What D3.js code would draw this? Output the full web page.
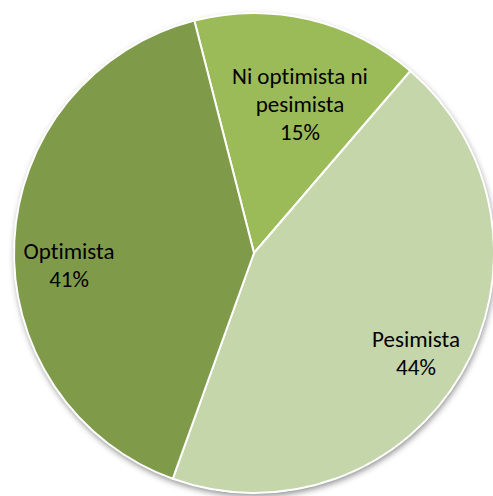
<!DOCTYPE html>
<html>
<head>
<meta charset="utf-8">
<script src="https://cdn.jsdelivr.net/npm/d3@7"></script>
<style>
html,body{margin:0;padding:0;background:#fff;}
svg{display:block;}
text{font-variant-ligatures:none;font-feature-settings:"liga" 0,"clig" 0,"dlig" 0;}
</style>
</head>
<body>
<svg id="chart" width="493" height="496"></svg>
<script>
// Data
const categories = ["Ni optimista ni pesimista", "Pesimista", "Optimista"];
const values = [15.3, 44.2, 40.5];
const percentLabels = ["15%", "44%", "41%"];
const labelLines = [["Ni optimista ni", "pesimista"], ["Pesimista"], ["Optimista"]];
const colors = ["#9BBB59", "#C4D6AA", "#7F9B4A"];

const svg = d3.select("#chart");
const cx = 254, cy = 253, r = 240;

const defs = svg.append("defs");
const f = defs.append("filter").attr("id", "shadow")
  .attr("x", "-10%").attr("y", "-10%").attr("width", "120%").attr("height", "120%");
f.append("feDropShadow").attr("dx", 1).attr("dy", 3).attr("stdDeviation", 3)
  .attr("flood-color", "#000").attr("flood-opacity", 0.45);

const startAngle = -14.4 * Math.PI / 180;
const pie = d3.pie().sort(null).value(d => d)
  .startAngle(startAngle).endAngle(startAngle + 2 * Math.PI);
const arcs = pie(values);
const arc = d3.arc().innerRadius(0).outerRadius(r);

const g = svg.append("g").attr("transform", `translate(${cx},${cy})`);
g.append("circle").attr("r", r).attr("fill", "#fff").attr("filter", "url(#shadow)");
g.selectAll("path.slice").data(arcs).enter().append("path")
  .attr("class", "slice")
  .attr("d", arc)
  .attr("fill", (d, i) => colors[i])
  .attr("stroke", "#fff")
  .attr("stroke-width", 2)
  .attr("stroke-linejoin", "round");

// Label placement: polar (angle in degrees clockwise from top, radius fraction)
const labelPolar = [[17.0, 0.655], [121.3, 0.79], [266.6, 0.772]];
const labelG = svg.append("g")
  .attr("font-family", "Carlito, Calibri, Lato, sans-serif")
  .attr("font-size", 23)
  .attr("fill", "#000")
  .attr("text-anchor", "middle");
const lineH = 28;
arcs.forEach((d, i) => {
  const lines = labelLines[i].concat([percentLabels[i]]);
  const a = labelPolar[i][0] * Math.PI / 180;
  const rr = r * labelPolar[i][1];
  const x = cx + Math.sin(a) * rr;
  const y = cy - Math.cos(a) * rr;
  const t = labelG.append("text");
  const y0 = y - (lines.length - 1) * lineH / 2 + 9;
  lines.forEach((ln, k) => {
    t.append("tspan").attr("x", x).attr("y", y0 + k * lineH).text(ln);
  });
});
</script>
</body>
</html>
